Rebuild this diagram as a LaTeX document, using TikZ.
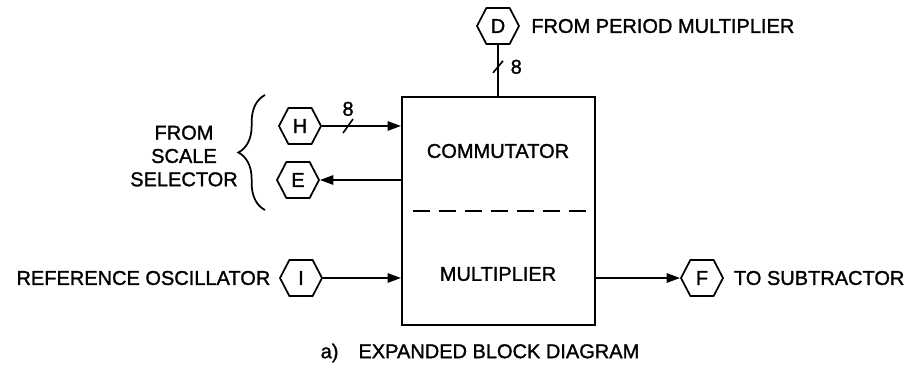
\documentclass[tikz,border=0pt]{standalone}
\usepackage{fontspec}
\setmainfont{Liberation Sans}[AutoFakeBold=1.3]
\usetikzlibrary{arrows.meta, positioning, shapes.symbols, decorations.pathreplacing}

\begin{document}
\begin{tikzpicture}[
                x=0.75pt, y=-0.75pt,
                font=\fontsize{15}{17.5}\selectfont\bfseries,
                block/.style={draw, rectangle, line width=1.6pt, minimum width=144.75pt, minimum height=171pt},
                hexa/.style={draw, shape=signal, signal to=east and west, signal pointer angle=125,
                             line width=1.3pt, minimum width=31.5pt, minimum height=27pt, inner sep=0pt},
                wire/.style={line width=1.4pt},
                busmark/.style={line width=1.2pt},
                divider/.style={line width=1.5pt, dash pattern=on 12.5pt off 7pt},
                >={Triangle[length=10pt, width=7pt]}
            ]

                \useasboundingbox (0,0) rectangle (907,375);

                % main block
                \node[block] (box) at (498.5,211) {};
                \node (commutator) at (498,151) {COMMUTATOR};
                \node (multiplier) at (498,274) {MULTIPLIER};
                \draw[divider] ([xshift=9pt]box.west) -- ([xshift=-1.5pt]box.east);

                % connector symbols
                \node[hexa] (D) at (498,26)  {D};
                \node[hexa] (H) at (300,126) {H};
                \node[hexa] (E) at (298,180) {E};
                \node[hexa] (I) at (301,278) {I};
                \node[hexa] (F) at (702,278) {F};

                \node (period)  [right = 5pt of D] {FROM PERIOD MULTIPLIER};
                \node (refosc)  [left = 3pt of I]  {REFERENCE OSCILLATOR};
                \node (subtr)   [right = 4pt of F] {TO SUBTRACTOR};
                \node[align=center] (scale) at (184,156) {FROM\\SCALE\\SELECTOR};

                % brace
                \coordinate (bracelow) at (265,210);
                \coordinate (bracetop) at (265,95);
                \draw[line width=1.3pt, decorate, decoration={brace, amplitude=20pt}] (bracelow) -- (bracetop);

                % signal lines
                \draw[wire] (D) -- coordinate[pos=0.43] (dbus) (D |- box.north);
                \draw[busmark] ([shift={(-5,6)}]dbus) -- ([shift={(5,-6)}]dbus);
                \node (dwidth) [right = 6pt of dbus] {8};

                \draw[wire, ->] (H) -- coordinate[pos=0.33] (hbus) (H -| box.west);
                \draw[busmark] ([shift={(-5,7)}]hbus) -- ([shift={(5,-7)}]hbus);
                \node (hwidth) [above = 4pt of hbus] {8};

                \draw[wire, ->] (E -| box.west) -- (E);
                \draw[wire, ->] (I) -- (I -| box.west);
                \draw[wire, ->] (F -| box.east) -- (F);

                \node (caption) at (480,353) {a)\quad EXPANDED BLOCK DIAGRAM};

            \end{tikzpicture}
\end{document}
